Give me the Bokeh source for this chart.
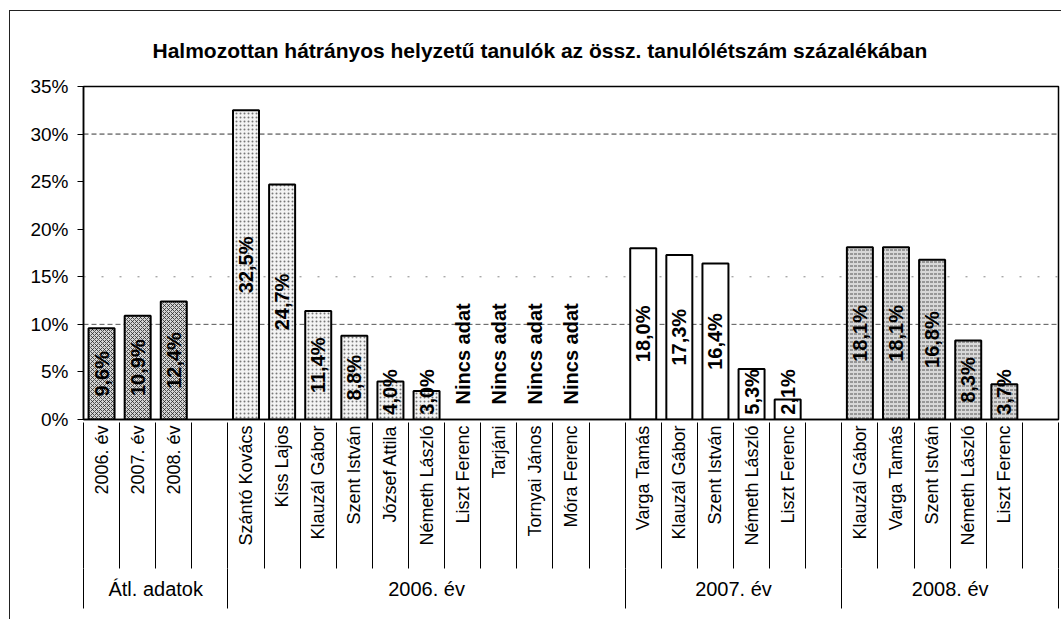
import math
from bokeh.plotting import figure
from bokeh.models import (Range1d, FixedTicker, LinearAxis, Span, ColumnDataSource,
                          PrintfTickFormatter)
from bokeh.core.properties import value
from bokeh.embed import file_html
from bokeh.resources import INLINE

title_text = "Halmozottan hátrányos helyzetű tanulók az össz. tanulólétszám százalékában"

group_names = ["Átl. adatok", "2006. év", "2007. év", "2008. év"]

avg_names = ["2006. év", "2007. év", "2008. év"]
avg_values = [9.6, 10.9, 12.4]

y2006_names = ["Szántó Kovács", "Kiss Lajos", "Klauzál Gábor", "Szent István",
               "József Attila", "Németh László", "Liszt Ferenc", "Tarjáni",
               "Tornyai János", "Móra Ferenc"]
y2006_values = [32.5, 24.7, 11.4, 8.8, 4.0, 3.0, None, None, None, None]

y2007_names = ["Varga Tamás", "Klauzál Gábor", "Szent István", "Németh László", "Liszt Ferenc"]
y2007_values = [18.0, 17.3, 16.4, 5.3, 2.1]

y2008_names = ["Klauzál Gábor", "Varga Tamás", "Szent István", "Németh László", "Liszt Ferenc"]
y2008_values = [18.1, 18.1, 16.8, 8.3, 3.7]

y_ticks = [0, 5, 10, 15, 20, 25, 30, 35]
missing_text = "Nincs adat"

FONT = "Liberation Sans"

groups = [(avg_names, avg_values), (y2006_names, y2006_values),
          (y2007_names, y2007_values), (y2008_names, y2008_values)]
styles = [
    dict(fill_color="#d4d4d4", hatch_pattern="diagonal_cross", hatch_scale=4, hatch_color="#222222", hatch_alpha=0.75, hatch_weight=1),
    dict(fill_color="#f4f4f4", hatch_pattern="dot", hatch_scale=4, hatch_color="#777777", hatch_alpha=1.0, hatch_weight=1),
    dict(fill_color="#ffffff", hatch_pattern=None, hatch_scale=4, hatch_color="#ffffff", hatch_alpha=0.0, hatch_weight=1),
    dict(fill_color="#d8d8d8", hatch_pattern="horizontal_dash", hatch_scale=4, hatch_color="#555555", hatch_alpha=1.0, hatch_weight=1),
]

centers, overrides, group_centers, group_bounds = [], {}, [], [0]
offset = 0
n_total = sum(len(n) + 1 for n, _ in groups)

p = figure(width=1052, height=609, output_backend="svg", toolbar_location=None,
           x_range=Range1d(0, n_total), y_range=Range1d(0, 35),
           min_border_left=73, min_border_right=4, min_border_top=74, min_border_bottom=201,
           x_axis_type=None, y_axis_type=None)

label_x, label_y, label_t = [], [], []
for gi, (names, vals) in enumerate(groups):
    xs = [offset + i + 0.5 for i in range(len(names))]
    for x, nm in zip(xs, names):
        overrides[x] = nm
    centers += xs
    bx = [x for x, v in zip(xs, vals) if v is not None]
    bv = [v for v in vals if v is not None]
    src = ColumnDataSource(dict(x=bx, top=bv))
    p.vbar(x="x", top="top", width=0.72, bottom=0, source=src,
           line_color="black", line_width=2, **styles[gi])
    for x, v in zip(xs, vals):
        label_x.append(x)
        if v is None:
            label_y.append(6.9)
            label_t.append(missing_text)
        else:
            label_y.append(max(v / 2, 2.9))
            label_t.append(f"{v:.1f}".replace(".", ",") + "%")
    group_centers.append(offset + (len(names) + 1) / 2)
    offset += len(names) + 1
    group_bounds.append(offset)

p.text(x=label_x, y=label_y, text=label_t, angle=math.pi / 2, text_align="center",
       text_baseline="middle", text_font=value(FONT), text_font_style="bold",
       text_font_size="20px", text_color="black")

# gridlines
for yv, dash, col in [(10, "5 3", "#555555"), (30, "5 3", "#333333"), (15, "2 16", "#888888")]:
    p.add_layout(Span(location=yv, dimension="width", line_color=col,
                      line_dash=dash, line_width=1, level="underlay"))

p.xgrid.visible = False
p.ygrid.visible = False
p.outline_line_color = "black"
p.outline_line_width = 1.5

# y axis
yax = LinearAxis(ticker=FixedTicker(ticks=y_ticks, minor_ticks=[]),
                 formatter=PrintfTickFormatter(format="%d%%"))
yax.major_tick_out = 6
yax.major_tick_in = 0
yax.major_label_standoff = 9
yax.major_label_text_font = FONT
yax.major_label_text_font_size = "19px"
yax.major_label_text_color = "black"
yax.axis_line_color = "black"
yax.axis_line_width = 1.5
p.add_layout(yax, "left")

E1 = 126
# category label axis
xax = LinearAxis(ticker=FixedTicker(ticks=centers, minor_ticks=[]))
xax.major_label_overrides = overrides
xax.major_label_orientation = math.pi / 2
xax.major_tick_line_color = None
xax.minor_tick_line_color = None
xax.major_tick_out = 0
xax.major_tick_in = 0
xax.major_label_standoff = 6
xax.major_label_text_font = FONT
xax.major_label_text_font_size = "18px"
xax.major_label_text_color = "black"
xax.axis_line_color = "black"
xax.axis_line_width = 1.5
p.add_layout(xax, "below")

# slot separators
sax = LinearAxis(ticker=FixedTicker(ticks=list(range(n_total + 1)), minor_ticks=[]))
sax.major_label_overrides = {b: "" for b in range(n_total + 1)}
sax.major_label_text_font_size = "0px"
sax.major_label_standoff = 0
sax.major_tick_in = E1
sax.major_tick_out = 20
sax.major_tick_line_color = "black"
sax.minor_tick_line_color = None
sax.axis_line_color = None
p.add_layout(sax, "below")

# group axis
gax = LinearAxis(ticker=FixedTicker(ticks=group_centers, minor_ticks=group_bounds))
gax.major_label_overrides = {c: g for c, g in zip(group_centers, group_names)}
gax.major_tick_line_color = None
gax.major_tick_out = 0
gax.major_tick_in = 0
gax.minor_tick_in = 0
gax.minor_tick_out = 40
gax.minor_tick_line_color = "black"
gax.axis_line_color = None
gax.major_label_standoff = -31
gax.major_label_text_font = FONT
gax.major_label_text_font_size = "20px"
gax.major_label_text_color = "black"
p.add_layout(gax, "below")

p.title.text = title_text
p.title.align = "left"
p.title.offset = 69
p.title.standoff = 50
p.title.text_font = FONT
p.title.text_font_size = "21px"
p.title.text_font_style = "bold"
p.title.text_color = "black"

p.styles = {"margin-left": "9px", "margin-top": "10px",
            "border-left": "1px solid #222", "border-top": "1px solid #222"}

open("out.html", "w").write(file_html(p, INLINE))
